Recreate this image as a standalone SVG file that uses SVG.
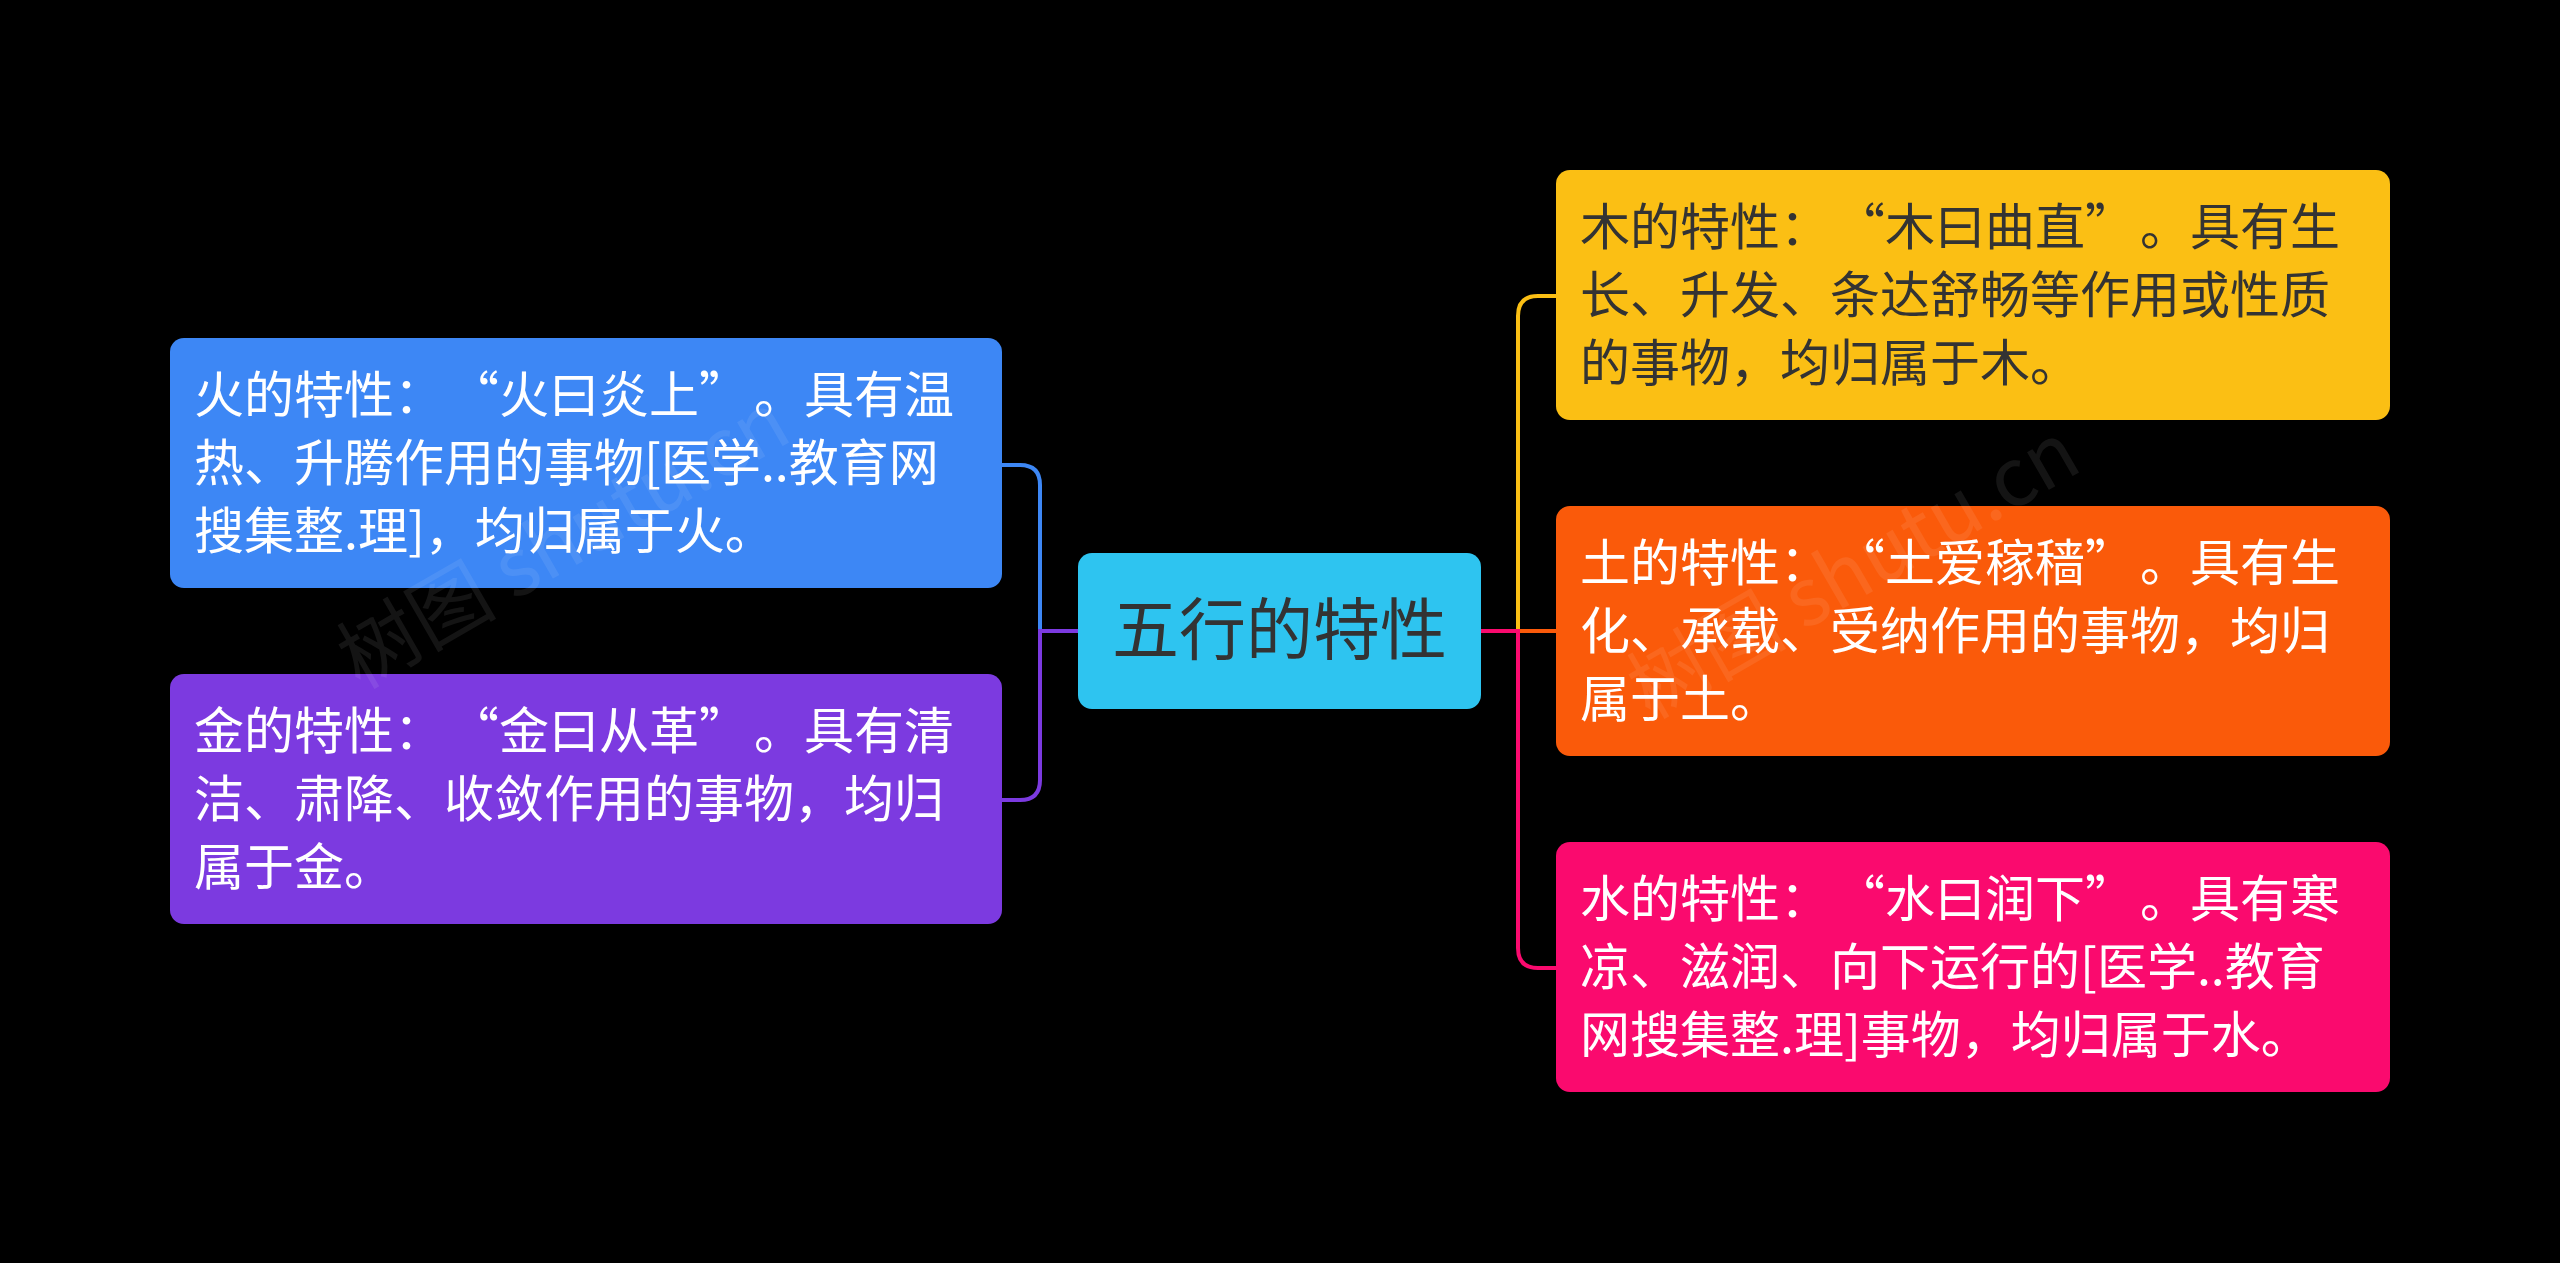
<svg xmlns="http://www.w3.org/2000/svg" width="2560" height="1263" viewBox="0 0 2560 1263">
<style>
.t{font-family:"Noto Sans CJK SC","Liberation Sans",sans-serif;font-size:50px;fill:#fff}
.c{fill:none;stroke-width:4}
.wm{font-family:"Noto Sans CJK SC","Liberation Serif",serif;font-size:80px;fill:#fff;opacity:0.08}
</style>
<rect width="2560" height="1263" fill="#000"/>
<g id="connectors">
<path class="c" stroke="#3d87f5" d="M1078,631 H1040 V485 Q1040,465 1020,465 H1002"/>
<path class="c" stroke="#7c3ae0" d="M1078,631 H1040 V780 Q1040,800 1020,800 H1002"/>
<path class="c" stroke="#fbbf14" d="M1481,631 H1518 V316 Q1518,296 1538,296 H1556"/>
<path class="c" stroke="#fa5a0a" d="M1481,631 H1556"/>
<path class="c" stroke="#fa0a6e" d="M1481,631 H1518 V948 Q1518,968 1538,968 H1556"/>
</g>
<g id="center"><rect x="1078" y="553" width="403" height="156" rx="14" fill="#2ec4f0"/>
<text x="1279.5" y="654" text-anchor="middle" style="font-family:'Noto Sans CJK SC','Liberation Sans',sans-serif;font-size:67px;fill:#333">五行的特性</text></g>
<g id="fire"><rect x="170" y="338" width="832" height="250" rx="14" fill="#3d87f5"/>
<text class="t"><tspan x="194" y="413">火的特性：<tspan dx="30">“火曰炎上”</tspan><tspan dx="30">。具有温</tspan></tspan><tspan x="194" y="481">热、升腾作用的事物[医学..教育网</tspan><tspan x="194" y="549">搜集整.理]，均归属于火。</tspan></text></g>
<g id="metal"><rect x="170" y="674" width="832" height="250" rx="14" fill="#7c3ae0"/>
<text class="t"><tspan x="194" y="749">金的特性：<tspan dx="30">“金曰从革”</tspan><tspan dx="30">。具有清</tspan></tspan><tspan x="194" y="817">洁、肃降、收敛作用的事物，均归</tspan><tspan x="194" y="885">属于金。</tspan></text></g>
<g id="wood"><rect x="1556" y="170" width="834" height="250" rx="14" fill="#fbbf14"/>
<text class="t" style="fill:#333"><tspan x="1580" y="245">木的特性：<tspan dx="30">“木曰曲直”</tspan><tspan dx="30">。具有生</tspan></tspan><tspan x="1580" y="313">长、升发、条达舒畅等作用或性质</tspan><tspan x="1580" y="381">的事物，均归属于木。</tspan></text></g>
<g id="earth"><rect x="1556" y="506" width="834" height="250" rx="14" fill="#fa5a0a"/>
<text class="t"><tspan x="1580" y="581">土的特性：<tspan dx="30">“土爱稼穑”</tspan><tspan dx="30">。具有生</tspan></tspan><tspan x="1580" y="649">化、承载、受纳作用的事物，均归</tspan><tspan x="1580" y="717">属于土。</tspan></text></g>
<g id="water"><rect x="1556" y="842" width="834" height="250" rx="14" fill="#fa0a6e"/>
<text class="t"><tspan x="1580" y="917">水的特性：<tspan dx="30">“水曰润下”</tspan><tspan dx="30">。具有寒</tspan></tspan><tspan x="1580" y="985">凉、滋润、向下运行的[医学..教育</tspan><tspan x="1580" y="1053">网搜集整.理]事物，均归属于水。</tspan></text></g>
<text class="wm" transform="translate(360,690) rotate(-30)">树图 shutu.cn</text>
<text class="wm" transform="translate(1650,720) rotate(-30)">树图 shutu.cn</text>
</svg>
